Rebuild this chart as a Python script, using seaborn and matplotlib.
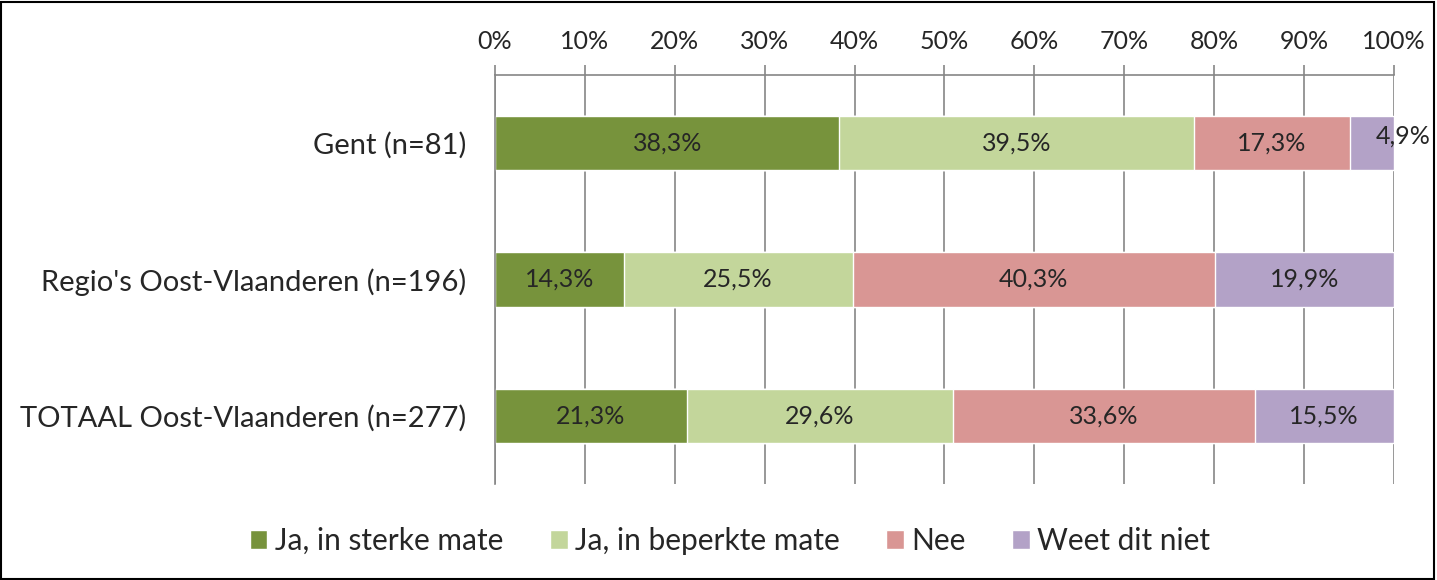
import matplotlib
matplotlib.use("Agg")
import matplotlib.pyplot as plt
import pandas as pd
import seaborn as sns
from matplotlib.patches import Patch, Rectangle
from matplotlib.ticker import FixedLocator, PercentFormatter

categories = ["Gent (n=81)", "Regio's Oost-Vlaanderen (n=196)", "TOTAAL Oost-Vlaanderen (n=277)"]
series = ["Ja, in sterke mate", "Ja, in beperkte mate", "Nee", "Weet dit niet"]
sterk = [38.3, 14.3, 21.3]
beperkt = [39.5, 25.5, 29.6]
nee = [17.3, 40.3, 33.6]
weet_niet = [4.9, 19.9, 15.5]
colors = ["#77933C", "#C3D69B", "#D99694", "#B3A2C7"]

sns.set_style("white")
plt.rcParams["font.family"] = ["Lato", "DejaVu Sans"]

df = pd.DataFrame({"cat": categories, series[0]: sterk, series[1]: beperkt,
                   series[2]: nee, series[3]: weet_niet})
cum = df[series].cumsum(axis=1)

fig = plt.figure(figsize=(14.37, 5.8), dpi=100)
ax = fig.add_axes([0.3445, 0.1655, 0.6255, 0.7052])

ax.set_axisbelow(True)
ax.grid(axis="x", color="#868686", lw=1.2)

# stacked bars drawn as overlapping cumulative bars, widest first
for s, c in reversed(list(zip(series, colors))):
    sns.barplot(x=cum[s], y=df["cat"], color=c, orient="h", width=0.4,
                saturation=1, ax=ax, zorder=2)

# segment labels
for i in range(len(categories)):
    left = 0
    for s in series:
        v = df.loc[i, s]
        txt = f"{v:.1f}".replace(".", ",") + "%"
        if v < 6:
            ax.text(101, i - 0.05, txt, ha="center", va="center", fontsize=18, zorder=3)
        else:
            ax.text(left + v / 2, i, txt, ha="center", va="center", fontsize=18, zorder=3)
        left += v

ax.set_xlim(0, 100)
ax.set_ylim(2.5, -0.5)
ax.xaxis.tick_top()
ax.xaxis.set_major_locator(FixedLocator(range(0, 101, 10)))
ax.xaxis.set_major_formatter(PercentFormatter(decimals=0))
ax.tick_params(axis="x", direction="out", length=7, color="#868686", width=1.2,
               labelsize=18, pad=9)
ax.yaxis.set_minor_locator(FixedLocator([-0.5, 0.5, 1.5, 2.5]))
ax.tick_params(axis="y", which="major", length=0, labelsize=21, pad=21)
ax.tick_params(axis="y", which="minor", length=8, color="#868686", width=1.2)
ax.set_xlabel("")
ax.set_ylabel("")
for side in ["right", "bottom"]:
    ax.spines[side].set_visible(False)
for side in ["left", "top"]:
    ax.spines[side].set_color("#868686")
    ax.spines[side].set_linewidth(1.2)

handles = [Patch(facecolor=c, label=s) for s, c in zip(series, colors)]
fig.legend(handles=handles, loc="center", bbox_to_anchor=(0.508, 0.067), ncol=4,
           frameon=False, fontsize=21.5, handlelength=0.6, handleheight=0.6,
           handletextpad=0.25, columnspacing=1.55)

fig.add_artist(Rectangle((0.001, 0.002), 0.997, 0.995, transform=fig.transFigure,
                         fill=False, edgecolor="black", lw=1.5))

fig.savefig("out.png", dpi=100)
